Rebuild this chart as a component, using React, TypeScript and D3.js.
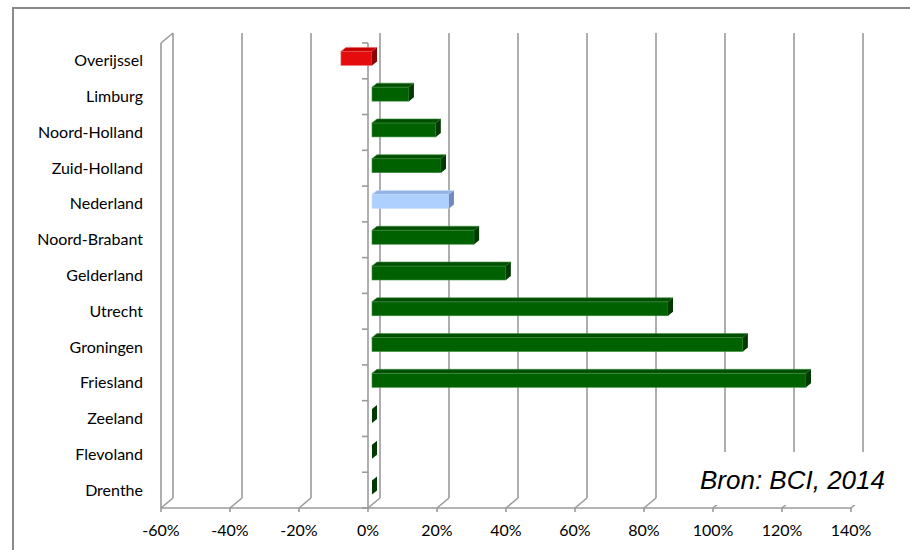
import React from 'react';
import { scaleLinear, scaleBand } from 'd3';

// categories top to bottom, growth in %
const provinces = [
  'Overijssel', 'Limburg', 'Noord-Holland', 'Zuid-Holland', 'Nederland',
  'Noord-Brabant', 'Gelderland', 'Utrecht', 'Groningen', 'Friesland',
  'Zeeland', 'Flevoland', 'Drenthe',
];
const growth = [-9, 10.7, 18.5, 20, 22.3, 29.6, 38.8, 85.8, 107.5, 125.8, 0, 0, 0];
const xTicks = [-60, -40, -20, 0, 20, 40, 60, 80, 100, 120, 140];
const source = 'Bron: BCI, 2014';

const W = 910;
const H = 550;
// depth of the 3d box
const DX = 12;
const DY = -10;

const colors = {
  pos: { front: '#006100', top: '#004f00', side: '#003a00', edge: '#3f8f3f' },
  neg: { front: '#e40c0c', top: '#c80000', side: '#8c0000', edge: '#f06060' },
  nl: { front: '#add0ff', top: '#93b4e8', side: '#7189bf', edge: '#c8deff' },
};

export default function App() {
  const x = scaleLinear().domain([-60, 140]).range([161, 851]);
  const y = scaleBand().domain(provinces).range([43, 508]).padding(0);
  const floorY = 508;
  const topY = 43;
  const barH = 14;

  const gridColor = '#9a9a9a';
  const bounds = [...provinces.map(p => y(p)), y.range()[1]];
  const font = "Lato, 'Open Sans', sans-serif";

  return (
    <svg width={W} height={H} style={{ position: 'absolute', left: 0, top: 0, background: '#fff' }}>
      <rect x={13} y={8} width={920} height={570} fill="none" stroke="#8a8a8a" strokeWidth={2} />

      {/* back gridlines with floor diagonals */}
      {xTicks.map(t => (
        <g key={'g' + t} stroke={gridColor} strokeWidth={1.6} fill="none">
          <line x1={x(t) + DX} y1={topY + DY} x2={x(t) + DX} y2={floorY + DY} />
          <line x1={x(t)} y1={floorY} x2={x(t) + DX} y2={floorY + DY} />
          <line x1={x(t)} y1={floorY} x2={x(t)} y2={floorY + 4} />
        </g>
      ))}

      {/* side wall */}
      <g stroke={gridColor} strokeWidth={1.6} fill="none">
        <line x1={x(-60)} y1={topY} x2={x(-60) + DX} y2={topY + DY} />
        <line x1={x(-60)} y1={topY} x2={x(-60)} y2={floorY} />
        <line x1={x(-60)} y1={floorY} x2={x(140)} y2={floorY} />
      </g>

      {/* category axis at 0% */}
      <g stroke={gridColor} strokeWidth={1.6}>
        <line x1={x(0)} y1={topY} x2={x(0)} y2={floorY} />
        {bounds.map((b, i) => (
          <line key={'t' + i} x1={x(0) - 6} y1={b} x2={x(0)} y2={b} />
        ))}
      </g>

      {/* bars */}
      {provinces.map((p, i) => {
        const v = growth[i];
        const c = p === 'Nederland' ? colors.nl : v < 0 ? colors.neg : colors.pos;
        const cy = (y(p) as number) + y.bandwidth() / 2 - 2.5;
        const ft = cy - barH / 2;
        const fb = ft + barH;
        const xl = x(Math.min(0, v)) + 4;
        const xr = x(Math.max(0, v)) + 4;
        const ox = 5;
        const oy = -4;
        return (
          <g key={p}>
            {xr > xl && (
              <>
                <rect x={xl} y={ft} width={xr - xl} height={barH} fill={c.front} stroke={c.edge} strokeWidth={0.6} />
                <polygon
                  points={`${xl},${ft} ${xr},${ft} ${xr + ox},${ft + oy} ${xl + ox},${ft + oy}`}
                  fill={c.top}
                  stroke={c.edge}
                  strokeWidth={0.6}
                />
              </>
            )}
            <polygon
              points={`${xr},${ft} ${xr + ox},${ft + oy} ${xr + ox},${fb + oy} ${xr},${fb}`}
              fill={c.side}
            />
          </g>
        );
      })}

      {/* category labels */}
      {provinces.map(p => (
        <text
          key={'l' + p}
          x={143}
          y={(y(p) as number) + y.bandwidth() / 2 + 5.5}
          textAnchor="end"
          fontFamily={font}
          fontSize={16}
          fill="#000"
        >
          {p}
        </text>
      ))}

      {/* value axis labels */}
      {xTicks.map(t => (
        <text
          key={'x' + t}
          x={x(t)}
          y={536}
          textAnchor="middle"
          fontFamily={font}
          fontSize={16}
          fill="#000"
        >
          {t + '%'}
        </text>
      ))}

      {/* source box */}
      <rect x={688} y={452} width={215} height={53} fill="#fff" />
      <text
        x={885}
        y={489}
        textAnchor="end"
        fontFamily="'Liberation Sans', Arial, sans-serif"
        fontStyle="italic"
        fontSize={26}
        fill="#000"
      >
        {source}
      </text>
    </svg>
  );
}
